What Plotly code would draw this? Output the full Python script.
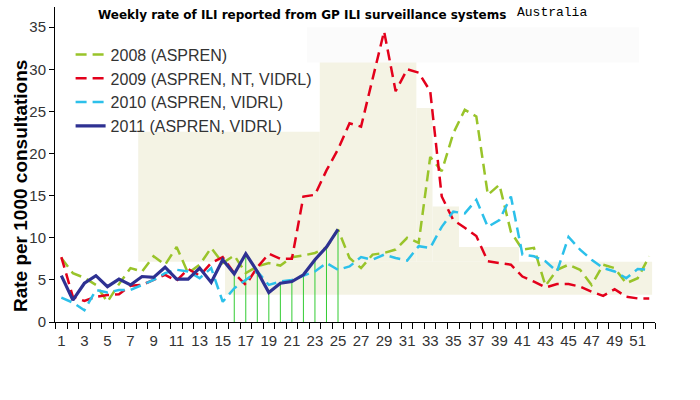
import plotly.graph_objects as go

weeks = list(range(1, 53))
y2008 = [7.6, 5.8, 5.25, 4.4, 2.4, 4.5, 6.4, 6.0, 7.8, 6.8, 8.9, 5.8, 6.8, 8.8, 7.0, 7.9,
         5.8, 6.6, 7.0, 6.7, 7.7, 7.9, 8.2, 8.8, 11.0, 7.6, 6.4, 8.0, 8.2, 8.6, 10.0, 9.4,
         19.6, 17.9, 22.4, 25.2, 24.4, 15.1, 16.3, 10.7, 8.6, 8.8, 4.3, 6.2, 6.8, 6.2,
         4.4, 6.8, 6.4, 4.6, 5.2, 7.8]
y2009 = [7.7, 3.0, 2.5, 3.0, 3.2, 3.3, 4.3, 4.4, 5.0, 5.6, 4.9, 6.3, 5.5, 7.0, 7.7, 5.8,
         4.4, 6.5, 8.1, 7.5, 7.5, 14.9, 15.1, 18.0, 20.5, 23.6, 23.2, 28.9, 34.5, 27.4,
         30.0, 29.6, 27.4, 14.9, 12.1, 11.2, 10.2, 7.2, 7.0, 6.8, 5.4, 4.8, 4.1, 4.5,
         4.5, 4.2, 3.6, 3.1, 3.9, 3.0, 2.8, 2.8]
y2010 = [2.9, 2.3, 1.4, 3.8, 3.5, 3.8, 3.8, 4.4, 5.0, 5.8, 6.2, 6.0, 5.2, 6.4, 2.4, 4.0,
         5.0, 6.0, 4.4, 4.8, 5.0, 5.5, 6.0, 7.0, 6.2, 6.6, 7.7, 7.4, 8.0, 7.6, 7.3, 9.0,
         8.8, 11.3, 13.1, 12.9, 14.5, 11.3, 12.1, 14.9, 8.0, 7.8, 7.2, 6.0, 10.1, 8.6,
         7.4, 6.4, 6.0, 5.2, 6.3, 6.2]
weeks2011 = list(range(1, 26))
y2011 = [5.5, 2.6, 4.6, 5.5, 4.2, 5.1, 4.4, 5.4, 5.3, 6.5, 5.1, 5.1, 6.4, 4.7, 7.4, 5.7,
         8.1, 6.0, 3.5, 4.6, 4.8, 5.6, 7.4, 8.9, 11.0]
stem_weeks = weeks2011[15:25]
stem_vals = y2011[15:25]

names = ["2008 (ASPREN)", "2009 (ASPREN, NT, VIDRL)", "2010 (ASPREN, VIDRL)", "2011 (ASPREN, VIDRL)"]
x_labels = [w for w in weeks if w % 2 == 1]

fig = go.Figure()

# stems for 2011 weeks 16-25
sx, sy = [], []
for w, v in zip(stem_weeks, stem_vals):
    sx += [w, w, None]
    sy += [0, v, None]
fig.add_trace(go.Scatter(x=sx, y=sy, mode="lines", line=dict(color="#33CC33", width=1),
                         showlegend=False, hoverinfo="skip"))

dash = "11px,6px"
fig.add_trace(go.Scatter(x=weeks, y=y2008, mode="lines", name=names[0],
                         line=dict(color="#99C42A", width=2.5, dash=dash)))
fig.add_trace(go.Scatter(x=weeks, y=y2009, mode="lines", name=names[1],
                         line=dict(color="#E3001B", width=2.5, dash=dash)))
fig.add_trace(go.Scatter(x=weeks, y=y2010, mode="lines", name=names[2],
                         line=dict(color="#2CC0EA", width=2.5, dash=dash)))
fig.add_trace(go.Scatter(x=weeks2011, y=y2011, mode="lines", name=names[3],
                         line=dict(color="#2E3192", width=3.2)))

beige = "#F4F3E4"
rects = [
    (7.67, 23.42, 7.15, 22.6),
    (15.2, 52.25, 3.24, 7.15),
    (23.42, 31.8, 7.15, 31.35),
    (31.8, 33.2, 7.15, 25.4),
    (33.2, 35.5, 7.15, 13.7),
    (35.5, 40.7, 7.15, 8.9),
]
shapes = [dict(type="rect", xref="x", yref="y", x0=a, x1=b, y0=c, y1=d,
               fillcolor=beige, line=dict(width=0), layer="below") for a, b, c, d in rects]
shapes.append(dict(type="rect", xref="x", yref="y", x0=22.3, x1=51.1, y0=30.8, y1=35.0,
                   fillcolor="#FBFBFB", line=dict(width=0), layer="below"))

fig.update_layout(
    width=700, height=400,
    margin=dict(l=55, r=45, t=7, b=78),
    paper_bgcolor="white", plot_bgcolor="white",
    shapes=shapes,
    font=dict(family="Liberation Sans, Arial, sans-serif", color="#333333"),
    legend=dict(x=0.026, y=0.903, xanchor="left", yanchor="top", bgcolor="rgba(0,0,0,0)",
                font=dict(size=16, color="#333333"),
                itemwidth=30, tracegroupgap=0),
    xaxis=dict(range=[0.45, 52.5], showline=True, linecolor="black", linewidth=1,
               showgrid=False, zeroline=False,
               tickmode="array", tickvals=x_labels, ticktext=[str(w) for w in x_labels],
               ticks="outside", ticklen=5, tickcolor="rgba(0,0,0,0)",
               tickfont=dict(size=15, color="#333333"),
               minor=dict(tick0=0.5, dtick=1, ticks="outside", ticklen=6,
                          tickcolor="black", showgrid=False)),
    yaxis=dict(range=[0, 37.4], showline=True, linecolor="black", linewidth=1,
               showgrid=False, zeroline=False,
               tickmode="array", tickvals=[0, 5, 10, 15, 20, 25, 30, 35],
               ticks="outside", ticklen=5, tickcolor="black",
               tickfont=dict(size=15, color="#333333")),
    annotations=[
        dict(text="<b>Weekly rate of ILI reported from GP ILI surveillance systems</b>",
             xref="paper", yref="paper", x=0.0683, y=0.9746, xanchor="left", yanchor="middle",
             showarrow=False, font=dict(family="DejaVu Sans", size=12, color="black")),
        dict(text="Australia", xref="paper", yref="paper", x=0.767, y=0.984,
             xanchor="left", yanchor="middle", showarrow=False,
             font=dict(family="Liberation Mono", size=13, color="black")),
        dict(text="<b>Rate per 1000 consultations</b>", xref="paper", yref="paper",
             x=-0.0583, y=0.4317, xanchor="center", yanchor="middle", textangle=-90,
             showarrow=False, font=dict(family="Liberation Sans", size=19, color="black")),
    ],
)

fig.write_html("out.html", config={"displayModeBar": False},
               post_script="document.body.style.margin='0';")
